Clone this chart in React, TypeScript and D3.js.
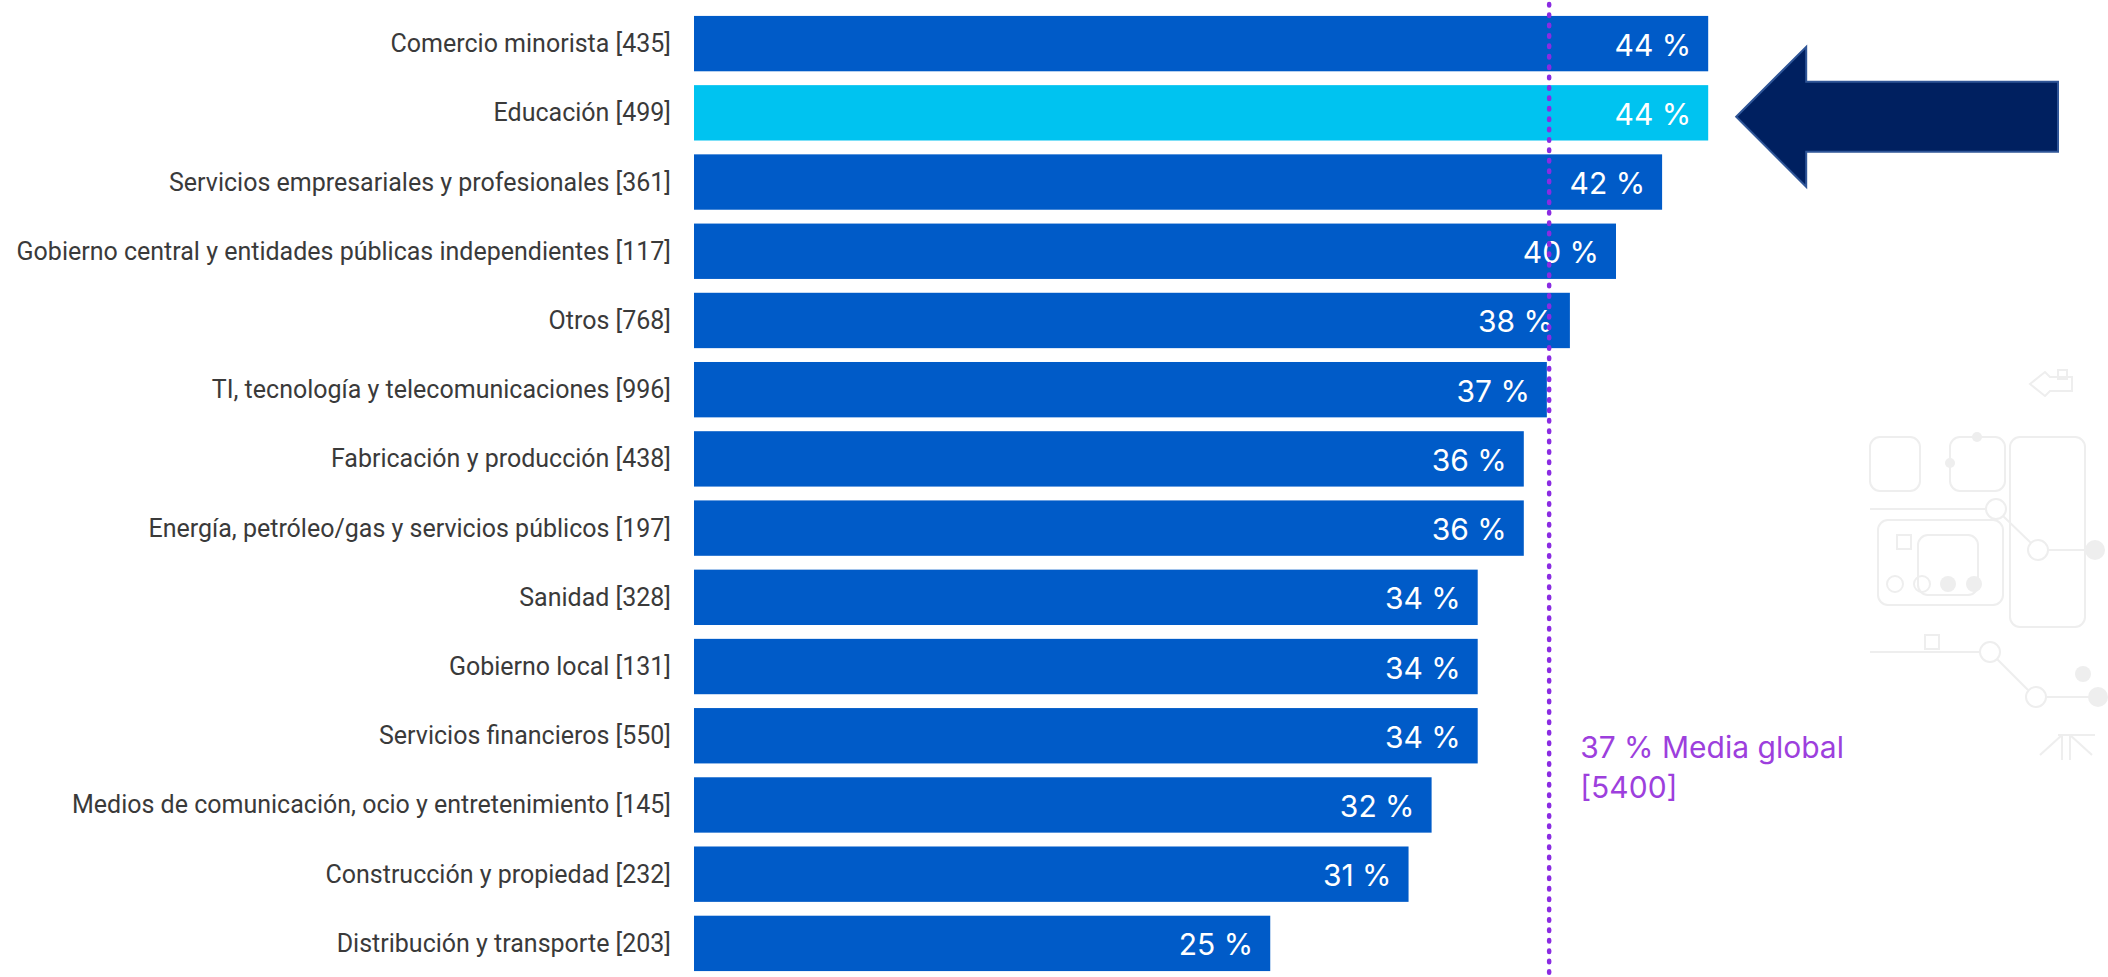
import React from "react";
import * as d3 from "d3";

const categories: string[] = [
  "Comercio minorista [435]",
  "Educación [499]",
  "Servicios empresariales y profesionales [361]",
  "Gobierno central y entidades públicas independientes [117]",
  "Otros [768]",
  "TI, tecnología y telecomunicaciones [996]",
  "Fabricación y producción [438]",
  "Energía, petróleo/gas y servicios públicos [197]",
  "Sanidad [328]",
  "Gobierno local [131]",
  "Servicios financieros [550]",
  "Medios de comunicación, ocio y entretenimiento [145]",
  "Construcción y propiedad [232]",
  "Distribución y transporte [203]",
];
const values: number[] = [44, 44, 42, 40, 38, 37, 36, 36, 34, 34, 34, 32, 31, 25];
const highlighted: string[] = ["Educación [499]"];
const averageValue = 37.1;
const averageLabel: string[] = ["37 % Media global", "[5400]"];

const W = 2108;
const H = 977;

export default function App() {
  const x = d3.scaleLinear().domain([0, 50]).range([694, 694 + 50 * 23.05]);
  const y = d3
    .scaleBand<string>()
    .domain(categories)
    .range([9, 978])
    .paddingInner(0.2)
    .paddingOuter(0.1);
  const bw = y.bandwidth();
  const ax = x(averageValue);

  const hiY = (y(highlighted[0]) ?? 0) + bw / 2 + 4;
  const tipX = x(44) + 28;
  const arrowPath = d3.path();
  arrowPath.moveTo(tipX, hiY);
  arrowPath.lineTo(tipX + 70, hiY - 70);
  arrowPath.lineTo(tipX + 70, hiY - 35);
  arrowPath.lineTo(2058, hiY - 35);
  arrowPath.lineTo(2058, hiY + 35);
  arrowPath.lineTo(tipX + 70, hiY + 35);
  arrowPath.lineTo(tipX + 70, hiY + 70);
  arrowPath.closePath();

  const deco = "#eeeeee";

  return (
    <svg
      width={W}
      height={H}
      style={{ position: "absolute", left: 0, top: 0, background: "#fff" }}
    >
      {/* faint decorative background graphic */}
      <g fill="none" stroke={deco} strokeWidth={2}>
        <path d="M2045,372 L2030,384 L2045,396 L2050,391 L2072,391 L2072,377 L2050,377 Z" />
        <rect x={2058} y={370} width={9} height={9} />
        <rect x={1870} y={437} width={50} height={54} rx={10} />
        <rect x={1950} y={437} width={55} height={54} rx={10} />
        <rect x={2010} y={437} width={75} height={190} rx={10} />
        <rect x={1878} y={520} width={125} height={85} rx={10} />
        <rect x={1918} y={535} width={60} height={60} rx={10} />
        <line x1={1870} y1={509} x2={1986} y2={509} />
        <circle cx={1996} cy={509} r={10} />
        <line x1={2003} y1={516} x2={2031} y2={543} />
        <circle cx={2038} cy={550} r={10} />
        <line x1={2048} y1={550} x2={2090} y2={550} />
        <circle cx={1895} cy={584} r={8} />
        <circle cx={1922} cy={584} r={8} />
        <rect x={1897} y={535} width={14} height={14} />
        <rect x={1925} y={635} width={14} height={14} />
        <line x1={1870} y1={652} x2={1980} y2={652} />
        <circle cx={1990} cy={652} r={10} />
        <line x1={1997} y1={659} x2={2028} y2={690} />
        <circle cx={2036} cy={697} r={10} />
        <line x1={2046} y1={697} x2={2092} y2={697} />
        <path d="M2062,735 L2040,755 M2062,735 L2062,760 M2070,735 L2070,760 M2070,735 L2092,755 M2058,735 L2095,735" />
      </g>
      <g fill={deco}>
        <circle cx={2095} cy={550} r={10} />
        <circle cx={1948} cy={584} r={8} />
        <circle cx={1974} cy={584} r={8} />
        <circle cx={2098} cy={697} r={10} />
        <circle cx={2083} cy={674} r={8} />
        <circle cx={1977} cy={437} r={5} />
        <circle cx={1950} cy={463} r={5} />
      </g>

      {/* bars */}
      {categories.map((c, i) => (
        <rect
          key={c}
          x={x(0)}
          y={y(c)}
          width={x(values[i]) - x(0)}
          height={bw}
          fill={highlighted.includes(c) ? "#00C3F0" : "#005BC8"}
        />
      ))}

      {/* category labels */}
      {categories.map((c) => (
        <text
          key={"l" + c}
          x={671}
          y={(y(c) ?? 0) + bw / 2}
          textAnchor="end"
          dominantBaseline="central"
          fontFamily="Roboto, sans-serif"
          fontSize={25}
          fill="#3a3a3a"
        >
          {c}
        </text>
      ))}

      {/* value labels */}
      {categories.map((c, i) => (
        <text
          key={"v" + c}
          x={x(values[i]) - 17}
          y={(y(c) ?? 0) + bw / 2 + 1}
          textAnchor="end"
          dominantBaseline="central"
          fontFamily="Inter, sans-serif"
          fontSize={30}
          fill="#ffffff"
        >
          {`${values[i]} %`}
        </text>
      ))}

      {/* average line */}
      <line
        x1={ax}
        x2={ax}
        y1={4}
        y2={H}
        stroke="#8A2BE2"
        strokeWidth={4.5}
        strokeLinecap="round"
        strokeDasharray="1.5 8.9"
      />
      <text
        x={ax + 31}
        y={758}
        fontFamily="Inter, sans-serif"
        fontSize={30}
        fill="#9D3FDD"
      >
        <tspan x={ax + 31} dy={0}>{averageLabel[0]}</tspan>
        <tspan x={ax + 31} dy={40}>{averageLabel[1]}</tspan>
      </text>

      {/* pointer arrow */}
      <path
        d={arrowPath.toString()}
        fill="#002060"
        stroke="#2F5597"
        strokeWidth={2}
      />
    </svg>
  );
}
